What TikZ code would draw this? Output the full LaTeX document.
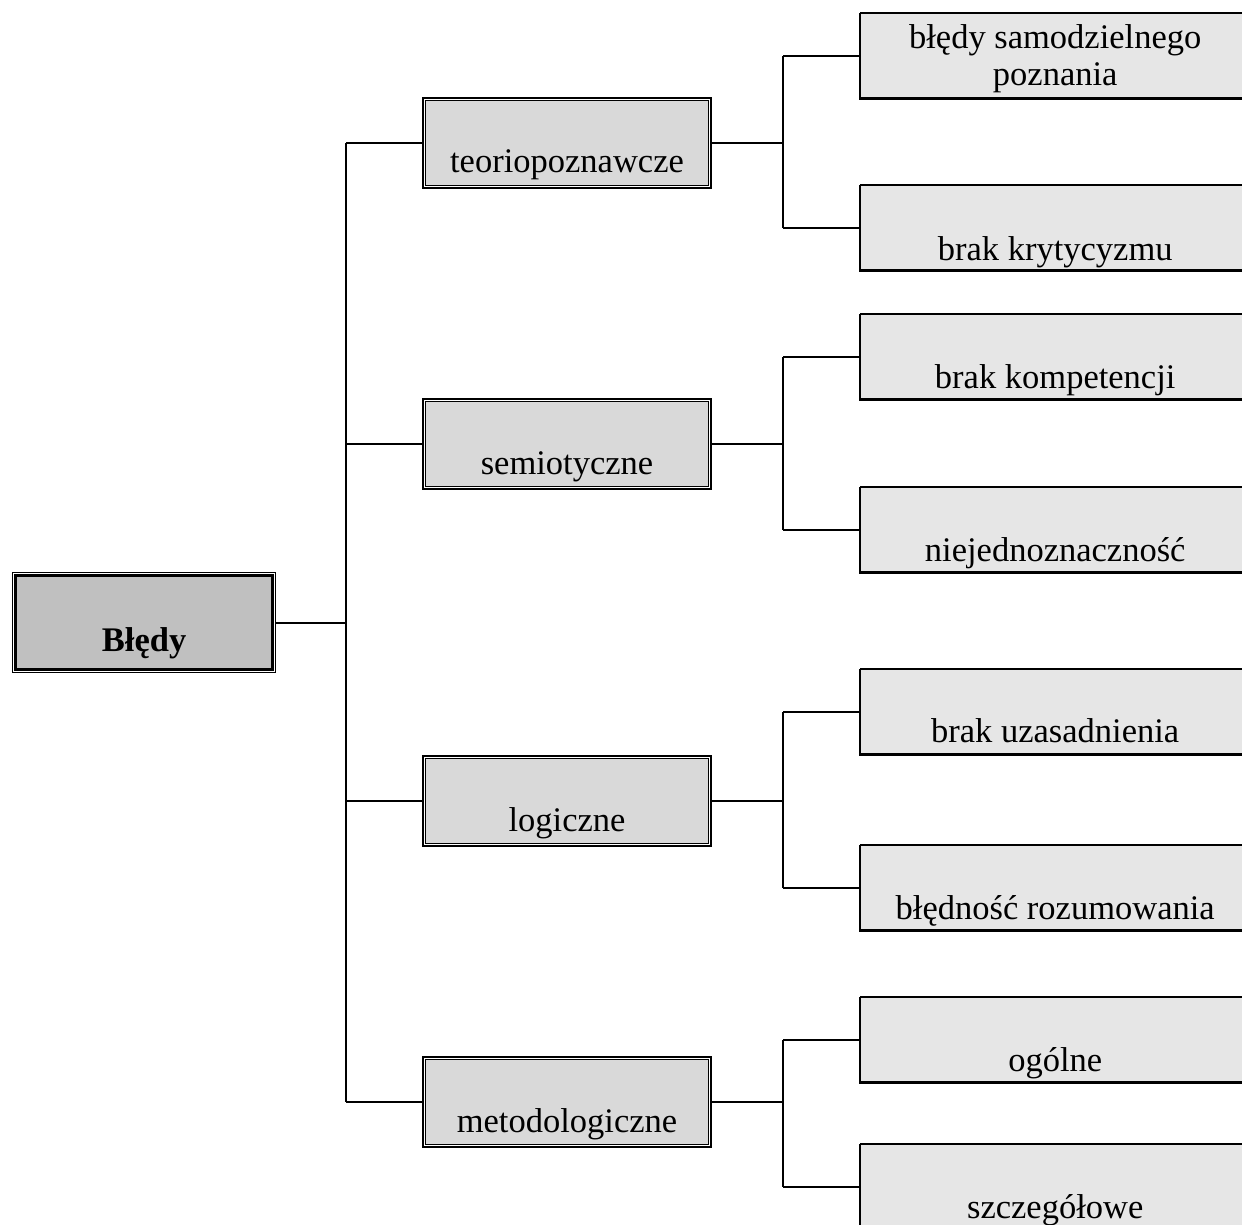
\documentclass[tikz,border=0pt]{standalone}
\usepackage{fontspec}
\setmainfont{Liberation Serif}
\definecolor{rootfill}{HTML}{C0C0C0}
\definecolor{midfill}{HTML}{D9D9D9}
\definecolor{leaffill}{HTML}{E6E6E6}
\begin{document}
\begin{tikzpicture}[x=1pt,y=-1pt,
  txt/.style={font=\fontsize{34.5}{37}\selectfont, inner sep=0pt, anchor=base, align=center},
  rootbox/.style={draw, line width=1.2pt, fill=white, minimum width=263pt, minimum height=100pt, inner sep=0pt, anchor=north west},
  midbox/.style={draw, line width=2pt, fill=white, minimum width=288pt, minimum height=90pt, inner sep=0pt, anchor=north west},
  leafbox/.style={fill=leaffill, minimum width=390pt, minimum height=85pt, inner sep=0pt, anchor=north west},
  link/.style={line width=2pt}]
\useasboundingbox (0,0) rectangle (1242,1225);

% root node with double frame
\node[rootbox] (root) at (12,572) {};
\draw[line width=3.5pt, fill=rootfill] ([shift={(3.5pt,-3.5pt)}]root.north west) rectangle ([shift={(-3.5pt,3.5pt)}]root.south east);
\node[txt, font=\fontsize{34.5}{37}\selectfont\bfseries] (rootlabel) at ([yshift=22pt]root.south) {Błędy};

% second level
\foreach \n/\y/\t in {m1/97/teoriopoznawcze, m2/398/semiotyczne, m3/755/logiczne, m4/1056/metodologiczne}{
  \node[midbox] (\n) at (422,\y) {};
  \draw[line width=1pt, fill=midfill] ([shift={(3.5pt,-3.5pt)}]\n.north west) rectangle ([shift={(-3.5pt,3.5pt)}]\n.south east);
  \node[txt] (\n label) at ([yshift=16pt]\n.south) {\t};
}

% third level
\foreach \n/\y/\t/\b in {l1/13/{błędy samodzielnego\\poznania}/13, l2/185/brak krytycyzmu/10, l3/314/brak kompetencji/11, l4/487/niejednoznaczność/11, l5/669/brak uzasadnienia/12, l6/845/błędność rozumowania/11, l7/997/ogólne/11, l8/1144/szczegółowe/11}{
  \node[leafbox] (\n) at (860,\y) {};
  \draw[line width=1.2pt] (\n.north west) -- (\n.north east);
  \draw[line width=2.5pt] (\n.north west) -- (\n.south west) -- (\n.south east);
  \node[txt] (\n label) at ([yshift=\b pt]\n.south) {\t};
}

% connectors
\coordinate (ta) at (346,0);
\coordinate (tb) at (783,0);
\draw[link] (root.east) -- (root.east -| ta);
\draw[link] (m1.west -| ta) -- (m4.west -| ta);
\foreach \n in {m1,m2,m3,m4}{
  \draw[link] (\n.west -| ta) -- (\n.west);
}
\foreach \m/\a/\b in {m1/l1/l2, m2/l3/l4, m3/l5/l6, m4/l7/l8}{
  \draw[link] (\m.east) -- (\m.east -| tb);
  \draw[link] (\a.west -| tb) -- (\b.west -| tb);
  \draw[link] (\a.west -| tb) -- (\a.west);
  \draw[link] (\b.west -| tb) -- (\b.west);
}
\end{tikzpicture}
\end{document}
